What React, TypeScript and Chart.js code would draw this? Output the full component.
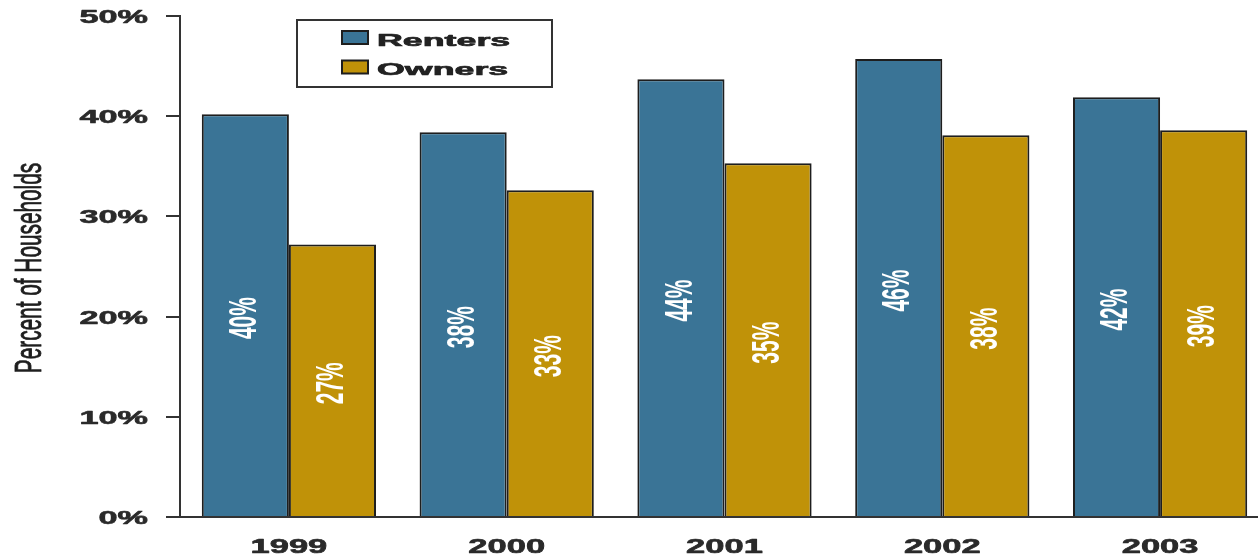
import React, { useEffect, useRef } from "react";
import { Chart, registerables } from "chart.js";

Chart.register(...registerables);

const years = ["1999", "2000", "2001", "2002", "2003"];
const renters = [40.2, 38.4, 43.7, 45.7, 41.9];
const owners = [27.2, 32.6, 35.3, 38.1, 38.6];
const seriesNames = ["Renters", "Owners"];
const seriesColors = ["#3A7496", "#C09208"];
const yTickLabels = ["0%", "10%", "20%", "30%", "40%", "50%"];
const yTitle = "Percent of Households";

const FONT = "'Liberation Sans', Arial, 'DejaVu Sans', sans-serif";

function drawText(
  ctx: CanvasRenderingContext2D,
  text: string,
  x: number,
  y: number,
  o: {
    font: string;
    color: string;
    sx: number;
    align: CanvasTextAlign;
    baseline: CanvasTextBaseline;
    rotate?: boolean;
    stroke?: number;
  }
) {
  ctx.save();
  ctx.translate(x, y);
  ctx.scale(o.sx, 1);
  if (o.rotate) ctx.rotate(-Math.PI / 2);
  ctx.font = o.font;
  ctx.fillStyle = o.color;
  ctx.textAlign = o.align;
  ctx.textBaseline = o.baseline;
  ctx.fillText(text, 0, 0);
  if (o.stroke) {
    ctx.strokeStyle = o.color;
    ctx.lineWidth = o.stroke;
    ctx.lineJoin = "round";
    ctx.strokeText(text, 0, 0);
  }
  ctx.restore();
}

const textPlugin = {
  id: "stretchedText",
  afterDraw(chart: any) {
    const ctx: CanvasRenderingContext2D = chart.ctx;
    const ys = chart.scales.y;
    const xs = chart.scales.x;
    // y tick labels
    ys.ticks.forEach((t: any, i: number) => {
      const py = ys.getPixelForValue(t.value);
      drawText(ctx, yTickLabels[i] ?? "", 148, py + 7, {
        font: `bold 18px ${FONT}`,
        color: "#2a2a2a",
        sx: 1.9,
        align: "right",
        baseline: "alphabetic",
        stroke: 0.6,
      });
    });
    // x tick labels
    years.forEach((yr, i) => {
      const px = xs.getPixelForValue(i);
      drawText(ctx, yr, px, 553, {
        font: `bold 19.5px ${FONT}`,
        color: "#2a2a2a",
        sx: 1.77,
        align: "center",
        baseline: "alphabetic",
        stroke: 0.6,
      });
    });
    // y title
    drawText(ctx, yTitle, 41, 268, {
      font: `20.8px ${FONT}`,
      color: "#1e1e1e",
      sx: 1.8,
      align: "center",
      baseline: "alphabetic",
      rotate: true,
      stroke: 0.5,
    });
    // value labels in bars
    chart.data.datasets.forEach((ds: any, di: number) => {
      const meta = chart.getDatasetMeta(di);
      meta.data.forEach((el: any, i: number) => {
        const p = el.getProps(["x", "y", "base"], true);
        const v = ds.data[i];
        drawText(ctx, Math.round(v) + "%", p.x, (p.y + p.base) / 2 + 3, {
          font: `bold 21px ${FONT}`,
          color: "#ffffff",
          sx: 1.85,
          align: "center",
          baseline: "middle",
          rotate: true,
        });
      });
    });
    // legend
    ctx.save();
    ctx.fillStyle = "#ffffff";
    ctx.fillRect(297, 20, 255, 67);
    ctx.strokeStyle = "#333";
    ctx.lineWidth = 2;
    ctx.strokeRect(297, 20, 255, 67);
    ctx.restore();
    const rows = [
      { top: 31, base: 45.5 },
      { top: 60.5, base: 75 },
    ];
    chart.data.datasets.forEach((ds: any, di: number) => {
      const r = rows[di];
      ctx.save();
      ctx.fillStyle = ds.backgroundColor;
      ctx.fillRect(342, r.top, 26, 13);
      ctx.strokeStyle = "#1e1e1e";
      ctx.lineWidth = 2;
      ctx.strokeRect(342, r.top, 26, 13);
      ctx.restore();
      drawText(ctx, ds.label, 377, r.base, {
        font: `bold 17.3px ${FONT}`,
        color: "#222",
        sx: 2.07,
        align: "left",
        baseline: "alphabetic",
        stroke: 0.7,
      });
    });
  },
};

export default function App() {
  const ref = useRef<HTMLCanvasElement | null>(null);
  useEffect(() => {
    if (!ref.current) return;
    const chart = new Chart(ref.current, {
      type: "bar",
      data: {
        labels: years,
        datasets: [
          {
            label: seriesNames[0],
            data: renters,
            backgroundColor: seriesColors[0],
            borderColor: "#1e1e1e",
            borderWidth: 2,
            categoryPercentage: 0.8,
            barPercentage: 1.0,
          },
          {
            label: seriesNames[1],
            data: owners,
            backgroundColor: seriesColors[1],
            borderColor: "#1e1e1e",
            borderWidth: 2,
            categoryPercentage: 0.8,
            barPercentage: 1.0,
          },
        ],
      },
      options: {
        responsive: false,
        maintainAspectRatio: false,
        animation: false,
        layout: { padding: { top: 16, left: 0, right: 0, bottom: 0 } },
        plugins: { legend: { display: false }, tooltip: { enabled: false } },
        scales: {
          x: {
            grid: { display: false },
            ticks: { display: false },
            border: { display: true, color: "#333", width: 2 },
            afterFit: (s: any) => {
              s.height = 40;
            },
          },
          y: {
            min: 0,
            max: 50,
            ticks: { display: false, stepSize: 10 },
            grid: {
              drawOnChartArea: false,
              drawTicks: true,
              tickLength: 14,
              color: "#333",
              lineWidth: 2,
            },
            border: { display: true, color: "#333", width: 2 },
            afterFit: (s: any) => {
              s.width = 180;
            },
          },
        },
      },
      plugins: [textPlugin],
    });
    return () => chart.destroy();
  }, []);
  return (
    <div style={{ position: "fixed", left: 0, top: 0, width: 1258, height: 557, overflow: "hidden", background: "#fff" }}>
      <canvas ref={ref} width={1269} height={557} style={{ display: "block", width: 1269, height: 557 }} />
    </div>
  );
}
